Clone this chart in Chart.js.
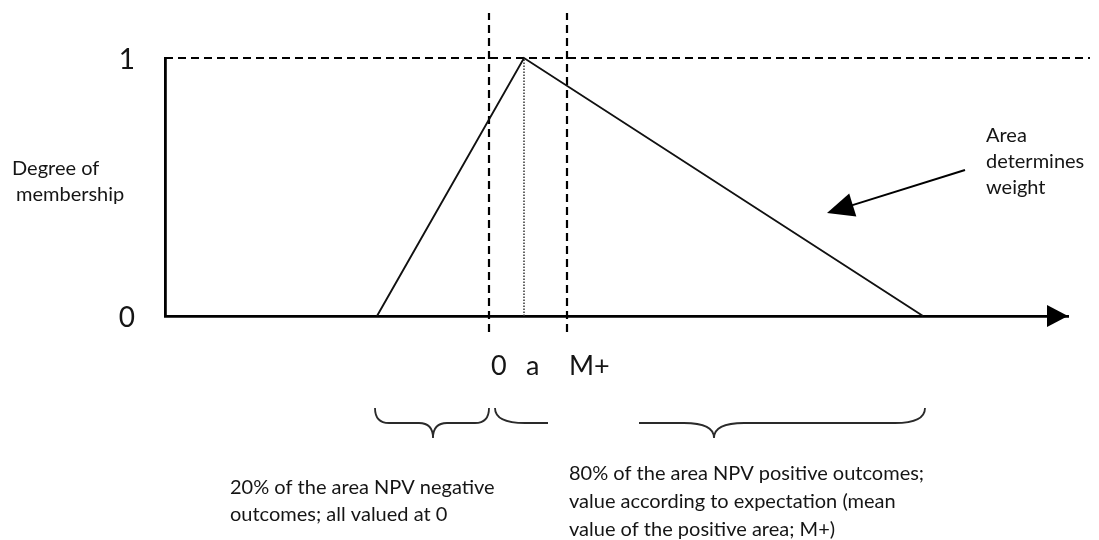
<!DOCTYPE html>
<html>
<head>
<meta charset="utf-8">
<script src="https://cdn.jsdelivr.net/npm/chart.js@4.4.1/dist/chart.umd.min.js"></script>
<style>
  html, body { margin: 0; padding: 0; background: #fff; }
  #wrap { width: 1099px; height: 540px; }
</style>
</head>
<body>
<div id="wrap"><canvas id="chart"></canvas></div>
<script>
// Triangular membership function over NPV (arbitrary units, 0 = break-even)
const npvPoints  = [-1.12, 0.35, 4.34];
const membership = [0, 1, 0];

// Marked positions on the NPV axis
const markerValues = [0, 0.35, 0.78];
const markerLabels = ["0", "a", "M+"];

// Membership axis ticks
const yTickValues = [0, 1];
const yTickLabels = ["0", "1"];

// Visible NPV range
const npvMin = -3.24;
const npvMax = 5.79;

// Guide lines: top dashed line runs past the box, verticals overshoot it
const topGuideEnd = 6.01;
const guideTop    = 1.174;
const guideBottom = -0.062;

// "Area determines weight" pointer, in (NPV, membership)
const arrowFrom = [4.76, 0.566];
const arrowTo   = [3.38, 0.399];

// Braces under the axis: [start, end, tip, gapStart, gapEnd]
const braceNeg = [-1.14, 0, -0.56, null, null];
const bracePos = [0.06, 4.36, 2.25, 0.59, 1.50];

const noteNeg = ["20% of the area NPV negative", "outcomes; all valued at 0"];
const notePos = ["80% of the area NPV positive outcomes;",
                 "value according to expectation (mean",
                 "value of the positive area; M+)"];

const INK  = "#151515";
const FONT = "Lato, 'Open Sans', sans-serif";

function seg(x1, y1, x2, y2) {
    return [{ x: x1, y: y1 }, { x: x2, y: y2 }];
}

// horizontal curly brace opening upwards; optional gap in the bar
function drawBrace(ctx, x1, x2, tip, gap1, gap2, yTop, yBar, yTip, r) {
    ctx.beginPath();
    ctx.moveTo(x1, yTop);
    ctx.quadraticCurveTo(x1, yBar, x1 + r, yBar);
    if (gap1 !== null) {
        ctx.lineTo(gap1, yBar);
        ctx.moveTo(gap2, yBar);
    }
    ctx.lineTo(tip - r, yBar);
    ctx.quadraticCurveTo(tip, yBar, tip, yTip);
    ctx.quadraticCurveTo(tip, yBar, tip + r, yBar);
    ctx.lineTo(x2 - r, yBar);
    ctx.quadraticCurveTo(x2, yBar, x2, yTop);
    ctx.stroke();
}

function arrowHead(ctx, fromX, fromY, toX, toY, len, half) {
    const ang = Math.atan2(toY - fromY, toX - fromX);
    ctx.beginPath();
    ctx.moveTo(toX, toY);
    ctx.lineTo(toX - len * Math.cos(ang) + half * Math.sin(ang),
               toY - len * Math.sin(ang) - half * Math.cos(ang));
    ctx.lineTo(toX - len * Math.cos(ang) - half * Math.sin(ang),
               toY - len * Math.sin(ang) + half * Math.cos(ang));
    ctx.closePath();
    ctx.fill();
}

const annotations = {
    id: "annotations",
    afterDraw(chart) {
        const ctx = chart.ctx;
        const xs = chart.scales.x;
        const ys = chart.scales.y;
        ctx.save();
        ctx.fillStyle = "#000";
        ctx.strokeStyle = "#000";

        // arrowhead at the end of the NPV axis
        const y0 = ys.getPixelForValue(0);
        arrowHead(ctx, xs.left, y0, xs.right, y0, 21, 11);

        // pointer arrow
        const ax1 = xs.getPixelForValue(arrowFrom[0]), ay1 = ys.getPixelForValue(arrowFrom[1]);
        const ax2 = xs.getPixelForValue(arrowTo[0]),   ay2 = ys.getPixelForValue(arrowTo[1]);
        const ang = Math.atan2(ay2 - ay1, ax2 - ax1);
        ctx.lineWidth = 2;
        ctx.beginPath();
        ctx.moveTo(ax1, ay1);
        ctx.lineTo(ax2 - 20 * Math.cos(ang), ay2 - 20 * Math.sin(ang));
        ctx.stroke();
        arrowHead(ctx, ax1, ay1, ax2, ay2, 27, 12);

        // braces
        ctx.lineWidth = 1.8;
        ctx.strokeStyle = "#2a2a2a";
        const px = v => xs.getPixelForValue(v);
        drawBrace(ctx, px(braceNeg[0]), px(braceNeg[1]), px(braceNeg[2]), null, null, 408, 423, 438, 14);
        drawBrace(ctx, px(bracePos[0]), px(bracePos[1]), px(bracePos[2]),
                  px(bracePos[3]), px(bracePos[4]), 408, 423, 438, 30);

        // texts
        ctx.fillStyle = INK;
        ctx.textAlign = "left";
        ctx.textBaseline = "alphabetic";
        ctx.font = "20px " + FONT;
        ctx.fillText("Degree of", 12, 175);
        ctx.fillText("membership", 16, 201);
        ctx.fillText("Area", 986, 142);
        ctx.fillText("determines", 986, 168);
        ctx.fillText("weight", 986, 194);

        noteNeg.forEach((t, i) => ctx.fillText(t, 230, 494 + i * 27));
        notePos.forEach((t, i) => ctx.fillText(t, 569, 480 + i * 28));
        ctx.restore();
    }
};

const dashed = { borderColor: "#000", borderWidth: 2.2, borderDash: [8, 5],
                 pointRadius: 0, clip: false, showLine: true };

new Chart(document.getElementById("chart"), {
    type: "scatter",
    data: {
        datasets: [
            {
                data: npvPoints.map((v, i) => ({ x: v, y: membership[i] })),
                borderColor: "#111", borderWidth: 1.9, pointRadius: 0,
                showLine: true, clip: false
            },
            Object.assign({ data: seg(npvMin, 1, topGuideEnd, 1) }, dashed),
            Object.assign({ data: seg(markerValues[0], guideBottom, markerValues[0], guideTop) }, dashed),
            Object.assign({ data: seg(markerValues[2], guideBottom, markerValues[2], guideTop) }, dashed),
            {
                data: seg(markerValues[1], 0, markerValues[1], 1),
                borderColor: "#333", borderWidth: 1.5, borderDash: [1.5, 1.5],
                pointRadius: 0, showLine: true, clip: false
            }
        ]
    },
    options: {
        responsive: true,
        maintainAspectRatio: false,
        animation: false,
        layout: { padding: { left: 0, right: 31, top: 58, bottom: 0 } },
        plugins: { legend: { display: false }, tooltip: { enabled: false } },
        scales: {
            x: {
                type: "linear",
                position: "bottom",
                min: npvMin,
                max: npvMax,
                grid: { display: false, drawTicks: false },
                border: { display: true, color: "#000", width: 2.8 },
                ticks: {
                    autoSkip: false,
                    align: "start",
                    padding: 34,
                    labelOffset: 2,
                    color: INK,
                    font: { family: FONT, size: 27 },
                    callback: v => markerLabels[markerValues.indexOf(v)]
                },
                afterBuildTicks: s => { s.ticks = markerValues.map(v => ({ value: v })); },
                afterFit: s => { s.height = 224; }
            },
            y: {
                type: "linear",
                min: 0,
                max: 1,
                grid: { display: false, drawTicks: false },
                border: { display: true, color: "#000", width: 2.8 },
                ticks: {
                    autoSkip: false,
                    padding: 30,
                    labelOffset: 2,
                    color: INK,
                    font: { family: FONT, size: 28 },
                    callback: v => yTickLabels[yTickValues.indexOf(v)]
                },
                afterBuildTicks: s => { s.ticks = yTickValues.map(v => ({ value: v })); },
                afterFit: s => { s.width = 165; }
            }
        }
    },
    plugins: [annotations]
});
</script>
</body>
</html>
